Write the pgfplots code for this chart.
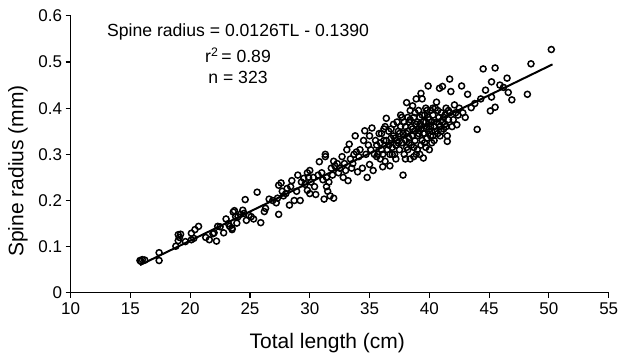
\documentclass[border=0pt]{standalone}
\usepackage{pgfplots}
\pgfplotsset{compat=1.18}
\usepackage{fontspec}
\setmainfont{Liberation Sans}
\begin{document}
\begin{tikzpicture}
\begin{axis}[
  scale only axis, width=538pt, height=277pt,
  xmin=10, xmax=55, ymin=0, ymax=0.6,
  xtick={10,15,...,55}, ytick={0,0.1,0.2,0.3,0.4,0.5,0.6},
  yticklabels={0,0.1,0.2,0.3,0.4,0.5,0.6},
  axis lines*=left, axis line style={-, line width=1.1pt},
  tick align=outside, major tick length=5pt,
  tick style={line width=1.1pt, black},
  /pgf/number format/assume math mode=true,
  tick label style={font=\fontsize{17}{19}\selectfont},
  xticklabel style={yshift=-1pt},
  label style={font=\fontsize{21}{24}\selectfont},
  xlabel={Total length (cm)},
  ylabel={Spine radius (mm)},
  x label style={at={(axis description cs:0.477,-0.18)}, anchor=center},
  y label style={at={(axis description cs:-0.098,0.44)}, anchor=center},
  clip=false,
]
\addplot[only marks, mark=o, mark size=3pt, mark options={line width=1.5pt, black}] coordinates {
(15.8,0.070) (15.9,0.068) (16.0,0.072) (16.2,0.071) (17.4,0.087) (17.4,0.070) (18.8,0.101) (19.0,0.126) (19.1,0.120) (19.0,0.113) (19.2,0.127) (19.6,0.111) (20.1,0.115) (20.1,0.129) (20.3,0.118) (20.4,0.137)
(20.7,0.144) (21.3,0.120) (21.6,0.115) (21.9,0.128) (22.0,0.130) (22.2,0.112) (22.3,0.144) (22.5,0.143) (22.8,0.130) (23.0,0.160) (23.2,0.150) (23.3,0.144) (23.5,0.137) (23.5,0.140) (23.6,0.175) (23.7,0.178) (23.8,0.165) (23.9,0.151) (24.0,0.165) (24.2,0.170) (24.4,0.179) (24.5,0.172) (24.6,0.202) (24.7,0.157) (24.9,0.168) (25.1,0.165)
(25.3,0.160) (25.6,0.218) (25.9,0.152) (26.2,0.176) (26.3,0.183) (26.6,0.203) (26.9,0.200) (27.2,0.195) (27.3,0.205) (27.4,0.170) (27.4,0.233) (27.6,0.238) (27.7,0.220) (27.8,0.210) (28.0,0.215) (28.1,0.226) (28.3,0.190) (28.4,0.230) (28.5,0.243) (28.7,0.200) (28.9,0.220) (29.0,0.255) (29.2,0.200) (29.3,0.240) (29.5,0.248) (29.6,0.235) (29.8,0.260) (29.8,0.222) (29.9,0.250) (30.0,0.265) (30.0,0.215)
(30.1,0.240) (30.3,0.250) (30.4,0.230) (30.5,0.213) (30.7,0.255) (30.8,0.284) (31.0,0.260) (31.1,0.245) (31.2,0.203) (31.3,0.300) (31.3,0.295) (31.4,0.230) (31.4,0.250) (31.5,0.220) (31.6,0.240) (31.7,0.210) (31.8,0.270) (31.9,0.255) (32.0,0.205) (32.0,0.285) (32.1,0.275) (32.3,0.280) (32.4,0.260) (32.5,0.270) (32.7,0.295) (32.8,0.250) (32.9,0.280) (33.0,0.265) (33.1,0.310) (33.2,0.243) (33.3,0.322) (33.4,0.290) (33.5,0.270) (33.6,0.280) (33.7,0.300) (33.8,0.340) (33.9,0.305) (34.0,0.262) (34.1,0.295) (34.2,0.310) (34.4,0.270) (34.5,0.330) (34.6,0.351) (34.7,0.300) (34.8,0.250) (34.9,0.320) (35.0,0.278) (35.0,0.340)
(35.1,0.310) (35.2,0.357) (35.3,0.265) (35.4,0.300) (35.5,0.330) (35.6,0.320) (35.7,0.300) (35.8,0.345) (35.9,0.290) (36.0,0.345) (36.0,0.310) (36.1,0.273) (36.2,0.330) (36.3,0.360) (36.3,0.285) (36.4,0.378) (36.5,0.310) (36.6,0.320) (36.6,0.350) (36.7,0.275) (36.8,0.335) (36.9,0.300) (37.0,0.340) (37.0,0.365) (37.1,0.300) (37.2,0.320) (37.3,0.370) (37.3,0.330) (37.4,0.350) (37.5,0.310) (37.6,0.385) (37.7,0.380) (37.7,0.325) (37.8,0.255) (37.8,0.345) (37.9,0.300) (38.0,0.330) (38.0,0.360) (38.1,0.412) (38.1,0.315) (38.2,0.310) (38.2,0.350) (38.3,0.370) (38.3,0.335) (38.4,0.290) (38.4,0.395) (38.5,0.360) (38.5,0.320) (38.6,0.405) (38.6,0.340) (38.7,0.295) (38.7,0.380) (38.8,0.350) (38.8,0.330) (38.9,0.420) (38.9,0.365) (39.0,0.370) (39.0,0.310) (39.1,0.345) (39.1,0.395) (39.2,0.300) (39.2,0.380) (39.3,0.432) (39.3,0.355) (39.4,0.420) (39.4,0.330) (39.5,0.292) (39.5,0.370) (39.6,0.385) (39.6,0.345) (39.7,0.400) (39.7,0.315) (39.8,0.360) (39.8,0.335) (39.9,0.448) (39.9,0.380) (40.0,0.310) (40.0,0.355) (40.1,0.395) (40.1,0.340) (40.2,0.370) (40.2,0.325) (40.3,0.340) (40.3,0.385) (40.4,0.360) (40.5,0.350) (40.5,0.400) (40.6,0.413) (40.6,0.370) (40.7,0.345) (40.8,0.380) (40.85,0.443) (40.9,0.360) (41.0,0.390) (41.1,0.447) (41.1,0.370) (41.2,0.355) (41.3,0.385) (41.4,0.400) (41.5,0.328) (41.5,0.340) (41.6,0.375) (41.7,0.463) (41.7,0.390) (41.8,0.436) (41.9,0.360) (42.0,0.375) (42.1,0.407) (42.2,0.390) (42.3,0.364) (42.4,0.385) (42.5,0.400)
(36.1,0.300) (36.4,0.330) (36.8,0.355) (37.2,0.290) (37.5,0.345) (37.9,0.370) (38.0,0.290) (38.3,0.325) (38.6,0.355) (38.9,0.300) (39.0,0.340) (39.2,0.365) (39.4,0.385) (39.6,0.325) (39.8,0.395) (40.0,0.375) (40.4,0.330) (40.7,0.395) (41.0,0.350) (41.3,0.365) (36.2,0.355) (36.9,0.315) (37.4,0.325) (37.6,0.360) (38.1,0.345) (38.4,0.375) (38.7,0.315) (39.1,0.355) (39.3,0.320) (39.7,0.370) (40.1,0.360) (40.3,0.400) (40.8,0.365) (41.2,0.380) (41.6,0.395) (35.6,0.295) (35.9,0.325) (36.7,0.300) (37.1,0.335) (38.2,0.380) (38.8,0.390) (39.5,0.345) (40.2,0.350) (40.9,0.340) (41.4,0.360)
(42.7,0.448) (42.8,0.390) (43.0,0.380) (43.2,0.430) (43.5,0.401) (43.8,0.410) (44.0,0.354) (44.3,0.420) (44.5,0.485) (44.7,0.439) (45.1,0.394) (45.2,0.457) (45.2,0.424) (45.5,0.487) (45.5,0.402) (45.9,0.450) (46.2,0.445) (46.5,0.465) (46.6,0.434) (46.9,0.418) (48.2,0.430) (48.5,0.496) (50.2,0.527)
};
\addplot[black, line width=2pt] coordinates {(15.8,0.0601) (50.3,0.4948)};
\node[font=\fontsize{17.6}{19}\selectfont, anchor=center] at (axis cs:24,0.565) {Spine radius = 0.0126TL - 0.1390};
\node[font=\fontsize{17.6}{19}\selectfont, anchor=center] at (axis cs:24,0.514) {r\textsuperscript{2}\,= 0.89};
\node[font=\fontsize{17.6}{19}\selectfont, anchor=center] at (axis cs:24,0.467) {n = 323};
\end{axis}
\pgfresetboundingbox
\useasboundingbox ([shift={(-70.6pt,-64pt)}]current axis.south west) rectangle ([shift={(12.3pt,15.8pt)}]current axis.north east);
\end{tikzpicture}
\end{document}
